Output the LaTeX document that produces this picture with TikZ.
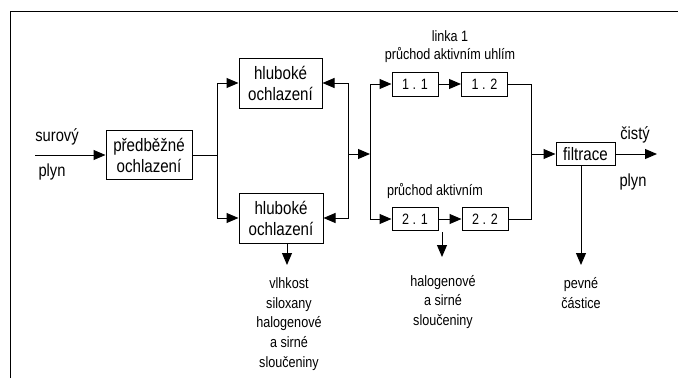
\documentclass[tikz,border=0pt]{standalone}
\usepackage{fontspec}
\setmainfont{Liberation Sans}[FakeStretch=0.84]
\usetikzlibrary{arrows.meta}
\begin{document}
\begin{tikzpicture}[x=1pt,y=-1pt,line width=1pt,
  arr/.style={-{Triangle[length=12pt,width=10pt]}},
  bigbox/.style={draw,inner sep=0pt,align=center,font=\fontsize{18}{21}\selectfont},
  smallbox/.style={draw,inner sep=0pt,minimum width=46pt,minimum height=24pt,font=\fontsize{15}{18}\selectfont},
  sidelbl/.style={inner sep=0pt,font=\fontsize{17.5}{21}\selectfont},
  lbl/.style={inner sep=0pt,align=center,font=\fontsize{15}{19.6}\selectfont}]
\useasboundingbox (0,0) rectangle (678,378);
% partial frame
\draw (10,378) -- (10,11) -- (678,11);
% boxes
\node[bigbox,minimum width=86pt,minimum height=49pt] (pre) at (149,155) {předběžné\\ochlazení};
\node[bigbox,minimum width=83pt,minimum height=50pt] (hu) at (280.5,83) {hluboké\\ochlazení};
\node[bigbox,minimum width=84pt,minimum height=50pt] (hl) at (281,218) {hluboké\\ochlazení};
\node[smallbox] (b11) at (415,84) {1 . 1};
\node[smallbox] (b12) at (484.5,84) {1 . 2};
\node[smallbox,minimum height=23pt] (b21) at (415,219) {2 . 1};
\node[smallbox,minimum height=23pt] (b22) at (485,219) {2 . 2};
\node[bigbox,minimum width=59pt,minimum height=23pt] (filt) at (585.5,154) {filtrace};
% coordinates
\coordinate (in) at (35,155);
\coordinate (s1) at (217,155);
\coordinate (s2) at (348,154);
\coordinate (s3) at (370,154);
\coordinate (s4) at (531,154);
\coordinate (out) at (657,154);
\coordinate (hla) at (287,243);
\coordinate (hlb) at (287,265);
\coordinate (d21a) at (442,232);
\coordinate (d21b) at (442,257);
\coordinate (fa) at (581,166);
\coordinate (fb) at (581,265);
% connectors
\draw[arr] (in) -- (pre.west);
\draw (pre.east) -- (s1);
\draw[arr] (s1) |- (hu.west);
\draw[arr] (s1) |- (hl.west);
\draw[arr] (s2) |- (hu.east);
\draw[arr] (s2) |- (hl.east);
\draw[arr] (s2) -- (s3);
\draw[arr] (s3) |- (b11.west);
\draw[arr] (s3) |- (b21.west);
\draw[arr] (b11) -- (b12);
\draw[arr] (b21) -- (b22);
\draw (b12.east) -| (s4);
\draw (b22.east) -| (s4);
\draw[arr] (s4) -- (filt.west);
\draw[arr] (filt.east) -- (out);
\draw[arr] (hla) -- (hlb);
\draw[arr] (d21a) -- (d21b);
\draw[arr] (fa) -- (fb);
% labels
\node[sidelbl] (surovy) at (57,137) {surový};
\node[sidelbl] (plyn1) at (52,172) {plyn};
\node[sidelbl] (cisty) at (635,135) {čistý};
\node[sidelbl] (plyn2) at (633,182) {plyn};
\node[lbl] (linka) at (450,36) {linka 1};
\node[lbl] (pruchod1) at (450,55) {průchod aktivním uhlím};
\node[lbl] (pruchod2) at (435,191) {průchod aktivním};
\node[lbl] (odpad1) at (289,324) {vlhkost\\siloxany\\halogenové\\a sirné\\sloučeniny};
\node[lbl] (odpad2) at (443,302) {halogenové\\a sirné\\sloučeniny};
\node[lbl] (odpad3) at (581,293) {pevné\\částice};
\end{tikzpicture}
\end{document}
